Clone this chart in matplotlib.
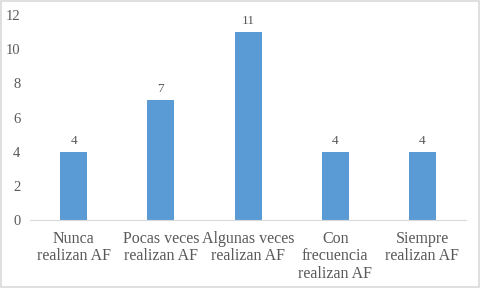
import matplotlib
matplotlib.use('Agg')
import matplotlib.pyplot as plt
from matplotlib.patches import Rectangle

# categorias y frecuencias
categorias = ['Nunca\nrealizan AF', 'Pocas veces\nrealizan AF', 'Algunas veces\nrealizan AF',
              'Con\nfrecuencia\nrealizan AF', 'Siempre\nrealizan AF']
valores = [4, 7, 11, 4, 4]
y_ticks = [0, 2, 4, 6, 8, 10, 12]

plt.rcParams['font.family'] = ['Liberation Serif', 'DejaVu Serif']
gris = '#595959'

fig = plt.figure(figsize=(4.8, 2.88), dpi=100)
ax = fig.add_axes([0.0625, 0.236, 0.9085, 0.712])

x = range(len(categorias))
bars = ax.bar(x, valores, width=0.31, color='#5B9BD5', zorder=2)
for b, v in zip(bars, valores):
    ax.text(b.get_x() + b.get_width() / 2, v + 0.3, str(v), ha='center', va='bottom',
            fontsize=9.5, color=gris)

ax.set_xlim(-0.5, len(categorias) - 0.5)
ax.set_ylim(0, 12)
ax.set_yticks(y_ticks)
ax.set_xticks(list(x))
ax.set_xticklabels(categorias, fontsize=11.5, color=gris, linespacing=1.1)
ax.tick_params(axis='y', length=0, labelsize=10.5, labelcolor=gris, pad=7)
ax.tick_params(axis='x', length=0, pad=8)

for s in ['top', 'right', 'left']:
    ax.spines[s].set_visible(False)
ax.spines['bottom'].set_color('#D9D9D9')

# borde del grafico
fig.patches.append(Rectangle((0.002, 0.003), 0.996, 0.994, transform=fig.transFigure,
                             fill=False, edgecolor='#D9D9D9', linewidth=1.2))

fig.savefig('out.png', dpi=100)
